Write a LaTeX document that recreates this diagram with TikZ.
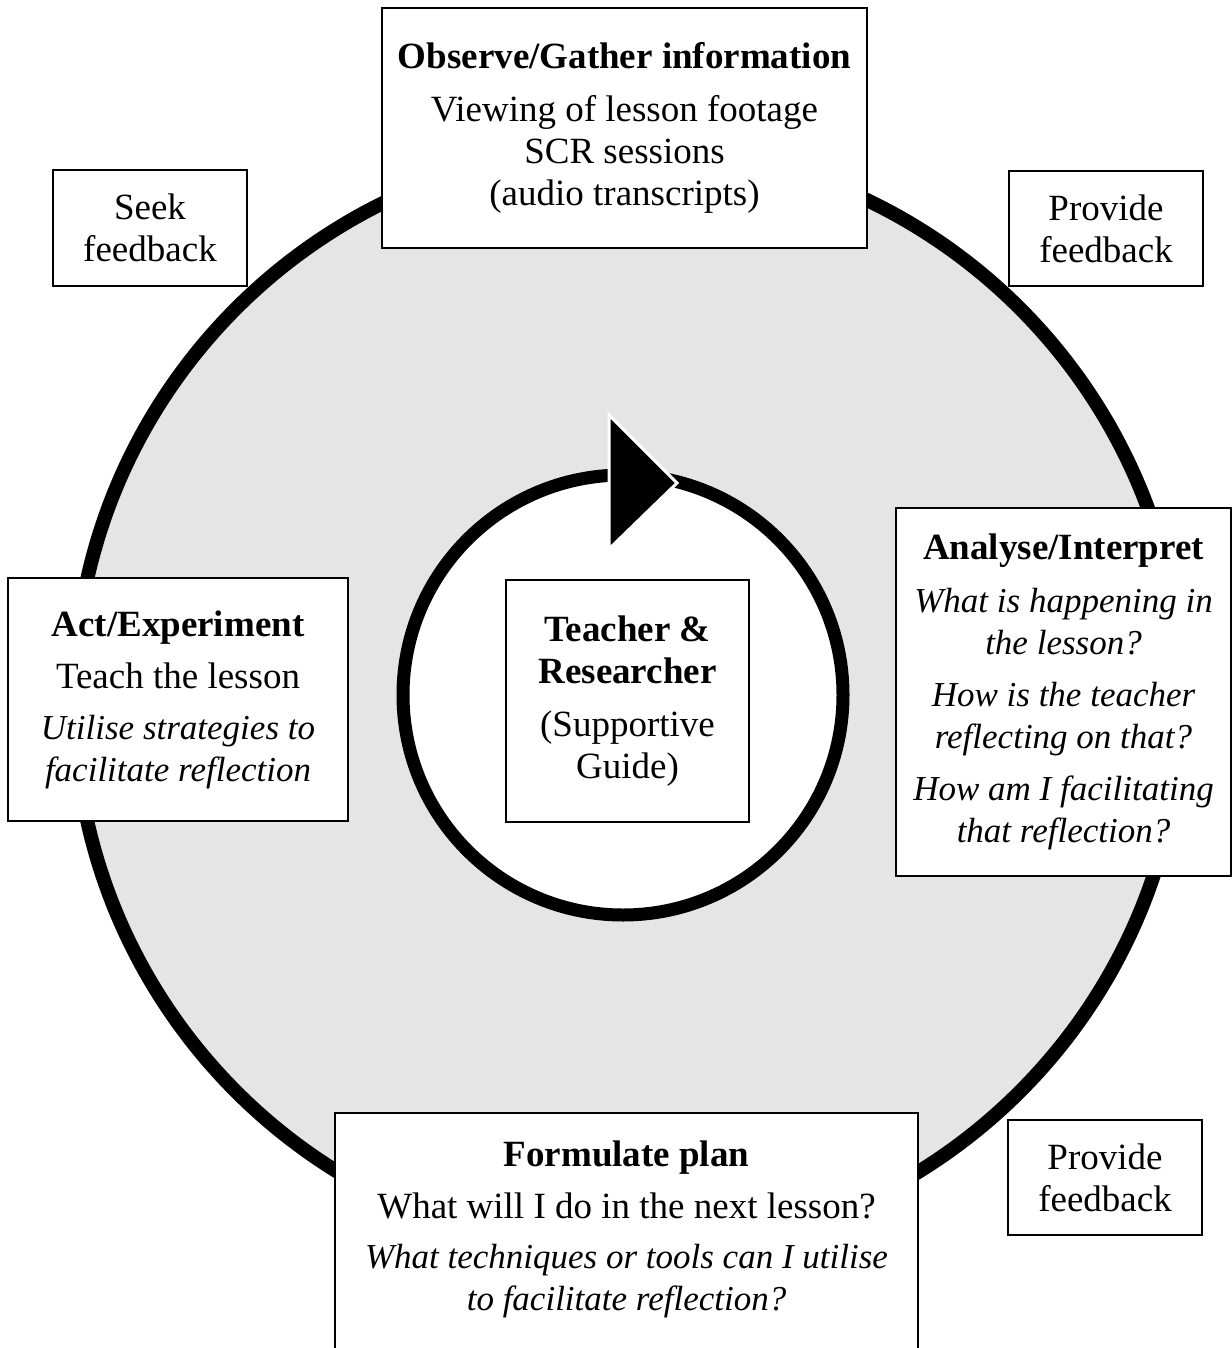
\documentclass[tikz,border=0pt]{standalone}
\usepackage{fontspec}
\setmainfont{Liberation Serif}
\definecolor{ringgray}{RGB}{229,229,229}
\newcommand\diagfont{\fontsize{37}{42}\selectfont}
\newcommand\itl[1]{{\fontsize{35}{42}\selectfont\itshape #1}}
\tikzset{
  box/.style={draw=black, line width=1.5pt, fill=white, inner sep=0pt, align=center, font=\diagfont},
  plain/.style={inner sep=0pt, align=center, font=\diagfont},
  ring/.style={circle, draw=black, inner sep=0pt},
}
\begin{document}
\begin{tikzpicture}[x=1pt,y=-1pt]
\useasboundingbox (0,0) rectangle (1231,1348);
\fill[white] (0,0) rectangle (1231,1348);
% outer ring
\node[ring, line width=14pt, fill=ringgray, minimum size=1108pt] (outer) at (628,700) {};
% inner ring
\node[ring, line width=13pt, fill=white, minimum size=440pt] (inner) at (623,695) {};
% arrow head on inner ring
\filldraw[fill=black, draw=white, line width=3pt, line join=miter] (609,415) -- (609,549) -- (677,483) -- cycle;

% boxes
\node[box, minimum width=485pt, minimum height=240pt] (observe) at (624.5,128)
  {\textbf{Observe/Gather information}\\[11pt] Viewing of lesson footage\\ SCR sessions\\ (audio transcripts)};
\node[box, minimum width=194pt, minimum height=116pt] (seek) at (150,228) {Seek\\ feedback};
\node[box, minimum width=194pt, minimum height=115pt] (provide1) at (1106,228.5) {Provide\\ feedback};
\node[box, minimum width=340pt, minimum height=243pt] (act) at (178,699.5)
  {\textbf{Act/Experiment}\\[10pt] Teach the lesson\\[9pt] \itl{Utilise strategies to}\\ \itl{facilitate reflection}};
\node[box, minimum width=243pt, minimum height=242pt] (centre) at (627.5,701)
  {\textbf{Teacher \&}\\ \textbf{Researcher}\\[11pt] (Supportive\\ Guide)};
\node[box, minimum width=335pt, minimum height=368pt] (analyse) at (1063.5,692)
  {\textbf{Analyse/Interpret}\\[11pt] \itl{What is happening in}\\ \itl{the lesson?}\\[10pt]
   \itl{How is the teacher}\\ \itl{reflecting on that?}\\[10pt]
   \itl{How am I facilitating}\\ \itl{that reflection?}};
\node[box, minimum width=583pt, minimum height=257pt] (formulate) at (626.5,1241.5) {};
\node[plain] (formtext) at (626.5,1229)
  {\textbf{Formulate plan}\\[10pt] What will I do in the next lesson?\\[8pt]
   \itl{What techniques or tools can I utilise}\\ \itl{to facilitate reflection?}};
\node[box, minimum width=194pt, minimum height=115pt] (provide2) at (1105,1177.5) {Provide\\ feedback};
\end{tikzpicture}
\end{document}
